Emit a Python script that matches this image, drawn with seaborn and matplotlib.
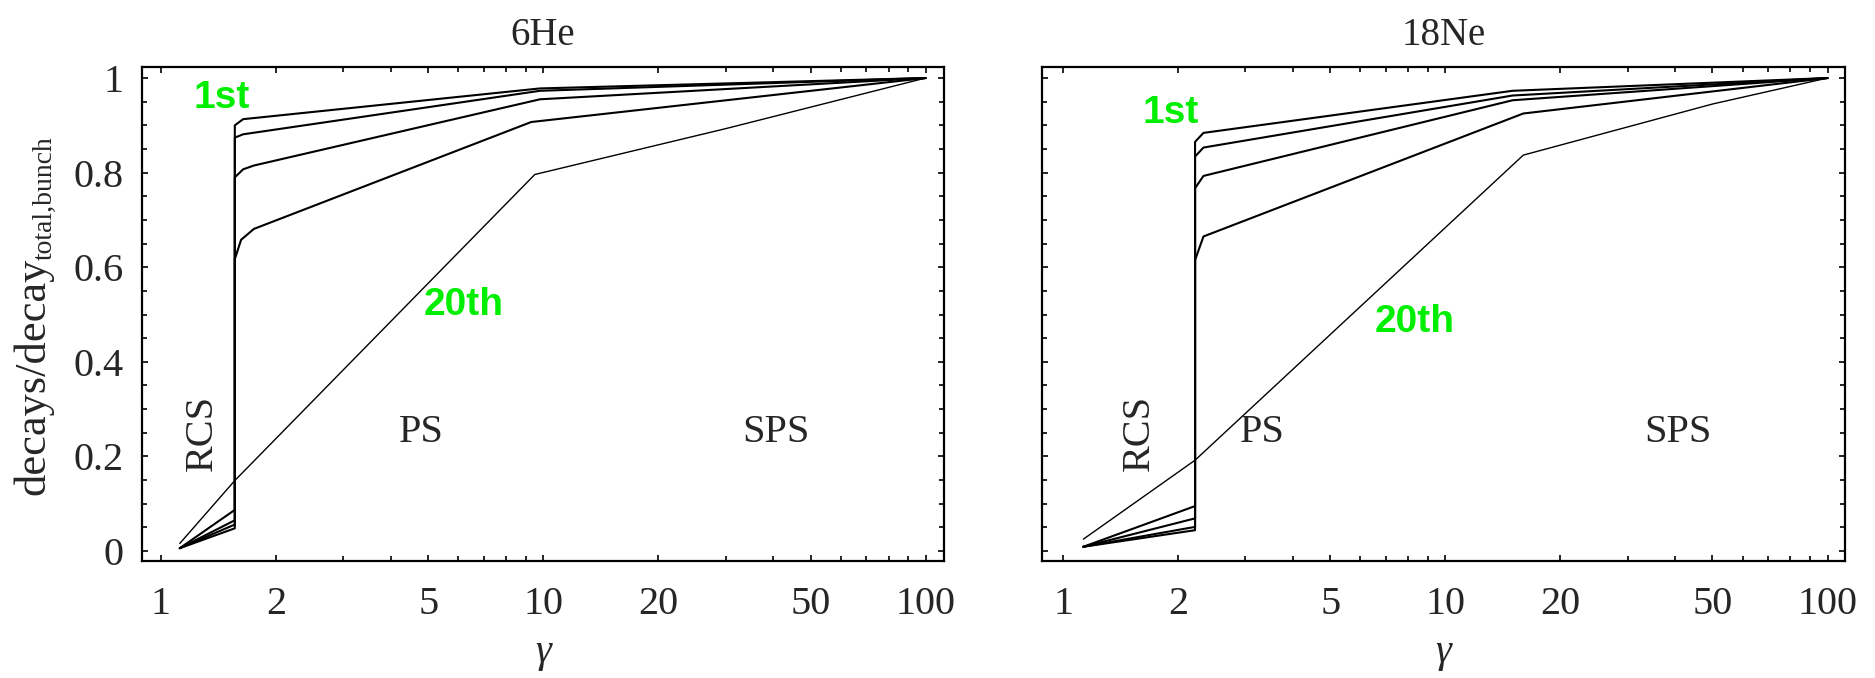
import matplotlib
matplotlib.use("Agg")
import matplotlib.pyplot as plt
import numpy as np
import pandas as pd
import seaborn as sns
from matplotlib.ticker import FixedLocator, FixedFormatter, NullFormatter

# ---------------- data ----------------
bunch_names = ["1st", "2nd", "3rd", "4th", "20th"]

# 6He panel
he_x_1st = [1.12, 1.56, 1.56, 1.64, 9.8, 100]
he_y_1st = [0.006, 0.048, 0.900, 0.913, 0.978, 1.0]
he_x_2nd = [1.12, 1.56, 1.56, 1.64, 9.8, 100]
he_y_2nd = [0.006, 0.056, 0.874, 0.881, 0.973, 1.0]
he_x_3rd = [1.12, 1.56, 1.56, 1.64, 1.75, 9.8, 100]
he_y_3rd = [0.006, 0.065, 0.790, 0.807, 0.815, 0.955, 1.0]
he_x_4th = [1.12, 1.56, 1.56, 1.62, 1.75, 9.3, 100]
he_y_4th = [0.006, 0.087, 0.617, 0.658, 0.681, 0.907, 1.0]
he_x_20th = [1.12, 1.56, 9.5, 30, 100]
he_y_20th = [0.016, 0.149, 0.796, 0.893, 1.0]

# 18Ne panel
ne_x_1st = [1.13, 2.215, 2.215, 2.33, 15, 100]
ne_y_1st = [0.009, 0.044, 0.865, 0.884, 0.973, 1.0]
ne_x_2nd = [1.13, 2.215, 2.215, 2.33, 15, 100]
ne_y_2nd = [0.009, 0.051, 0.834, 0.853, 0.963, 1.0]
ne_x_3rd = [1.13, 2.215, 2.215, 2.33, 15, 100]
ne_y_3rd = [0.009, 0.069, 0.767, 0.793, 0.953, 1.0]
ne_x_4th = [1.13, 2.215, 2.215, 2.33, 16, 100]
ne_y_4th = [0.009, 0.095, 0.615, 0.665, 0.925, 1.0]
ne_x_20th = [1.13, 2.215, 16, 50, 100]
ne_y_20th = [0.025, 0.192, 0.837, 0.945, 1.0]

panel_titles = ["6He", "18Ne"]
x_ticks = [1, 2, 5, 10, 20, 50, 100]
x_tick_labels = ["1", "2", "5", "10", "20", "50", "100"]
x_minor = [3, 4, 6, 7, 8, 9, 30, 40, 60, 70, 80, 90]
y_ticks = [0, 0.2, 0.4, 0.6, 0.8, 1.0]
y_tick_labels = ["0", "0.2", "0.4", "0.6", "0.8", "1"]
y_minor = [0.05, 0.1, 0.15, 0.25, 0.3, 0.35, 0.45, 0.5, 0.55, 0.65, 0.7,
           0.75, 0.85, 0.9, 0.95]

# annotation positions (gamma, fraction)
he_text = {"1st": (1.44, 0.957), "20th": (6.2, 0.52),
           "RCS": (1.285, 0.25), "PS": (4.8, 0.25), "SPS": (40.6, 0.25)}
ne_text = {"1st": (1.91, 0.925), "20th": (8.3, 0.484),
           "RCS": (1.58, 0.25), "PS": (3.32, 0.25), "SPS": (40.6, 0.25)}


def build(xs, ys):
    rows = []
    for name, x, y in zip(bunch_names, xs, ys):
        for i, (a, b) in enumerate(zip(x, y)):
            rows.append({"bunch": name, "gamma": a, "frac": b, "order": i})
    return pd.DataFrame(rows)


he_df = build([he_x_1st, he_x_2nd, he_x_3rd, he_x_4th, he_x_20th],
              [he_y_1st, he_y_2nd, he_y_3rd, he_y_4th, he_y_20th])
ne_df = build([ne_x_1st, ne_x_2nd, ne_x_3rd, ne_x_4th, ne_x_20th],
              [ne_y_1st, ne_y_2nd, ne_y_3rd, ne_y_4th, ne_y_20th])

# ---------------- style ----------------
sns.set_theme(style="ticks")
plt.rcParams["font.family"] = ["Liberation Serif", "DejaVu Serif"]

W, H = 1875, 678
fig = plt.figure(figsize=(W / 100, H / 100), dpi=100)
fig.patch.set_facecolor("white")

ax_rects = [
    [142 / W, (H - 561) / H, 802 / W, 494 / H],
    [1042 / W, (H - 561) / H, 803 / W, 494 / H],
]
xlims = [(0.892, 111.7), (0.881, 111.1)]
green = "#00ee00"
TICK_FS = 29

for k, (df, texts) in enumerate([(he_df, he_text), (ne_df, ne_text)]):
    ax = fig.add_axes(ax_rects[k])
    main = df[df["bunch"] != "20th"]
    last = df[df["bunch"] == "20th"]
    sns.lineplot(data=main, x="gamma", y="frac", units="bunch",
                 estimator=None, sort=False, color="black", lw=1.5, ax=ax)
    sns.lineplot(data=last, x="gamma", y="frac", units="bunch",
                 estimator=None, sort=False, color="black", lw=1.0, ax=ax)
    ax.set_xscale("log")
    ax.set_xlim(*xlims[k])
    ax.set_ylim(-0.0211, 1.0233)
    ax.xaxis.set_major_locator(FixedLocator(x_ticks))
    ax.xaxis.set_major_formatter(FixedFormatter(x_tick_labels))
    ax.xaxis.set_minor_locator(FixedLocator(x_minor))
    ax.xaxis.set_minor_formatter(NullFormatter())
    ax.yaxis.set_major_locator(FixedLocator(y_ticks))
    ax.yaxis.set_minor_locator(FixedLocator(y_minor))
    if k == 0:
        ax.yaxis.set_major_formatter(FixedFormatter(y_tick_labels))
    else:
        ax.yaxis.set_major_formatter(NullFormatter())
    ax.tick_params(which="both", direction="in", top=True, right=True,
                   color="black", width=1.2)
    ax.tick_params(which="major", length=4.5)
    ax.tick_params(which="minor", length=3.5)
    ax.tick_params(axis="x", which="major", labelsize=TICK_FS, pad=18)
    ax.tick_params(axis="y", which="major", labelsize=TICK_FS, pad=13)
    for s in ax.spines.values():
        s.set_visible(True)
        s.set_color("black")
        s.set_linewidth(1.6)
    ax.set_facecolor("white")
    ax.grid(False)
    ax.set_title(panel_titles[k], fontsize=28, pad=16)
    ax.set_xlabel("γ", fontsize=29, fontstyle="italic", labelpad=8)
    ax.set_ylabel("")

    for lab in ["1st", "20th"]:
        gx, gy = texts[lab]
        ax.text(gx, gy, lab, color=green, fontsize=28, fontweight="bold",
                family=["Liberation Sans", "DejaVu Sans"],
                ha="center", va="center")
    gx, gy = texts["RCS"]
    ax.text(gx, gy, "RCS", rotation=90, fontsize=29, ha="center", va="center")
    for lab in ["PS", "SPS"]:
        gx, gy = texts[lab]
        ax.text(gx, gy, lab, fontsize=29, ha="center", va="center")

# y label: main text with a smaller subscript, rotated
fig.text(33 / W, (H - 495) / H, "decays/decay", rotation=90, fontsize=32,
         ha="center", va="bottom")
fig.text(45 / W, (H - 260) / H, "total,bunch", rotation=90, fontsize=20,
         ha="center", va="bottom")

fig.savefig("out.png", dpi=100, facecolor="white")
